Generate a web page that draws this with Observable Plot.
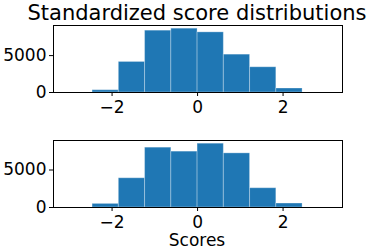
<!DOCTYPE html>
<html>
<head>
<meta charset="utf-8">
<script src="https://cdn.jsdelivr.net/npm/d3@7"></script>
<script src="https://cdn.jsdelivr.net/npm/@observablehq/plot@0.6"></script>
<style>
  html, body { margin: 0; padding: 0; background: #fff; }
  #chart { position: relative; width: 374px; height: 249px; font-family: "DejaVu Sans", sans-serif; overflow: hidden; }
  #chart > div.t { position: absolute; left: 0; width: 374px; text-align: center; color: #000; white-space: nowrap; line-height: 1; }
  #chart > .p { position: absolute; left: 0; }
</style>
</head>
<body>
<div id="chart"></div>
<script>
const title = "Standardized score distributions";
const xLabel = "Scores";
const binEdges = [-2.456, -1.842, -1.228, -0.614, 0, 0.614, 1.228, 1.842, 2.456];
const countsTop = [310, 4140, 8380, 8650, 8150, 5130, 3420, 540];
const countsBottom = [480, 3900, 7980, 7450, 8510, 7220, 2570, 530];
const xTicks = [-2, 0, 2];
const yTicks = [0, 5000];

const fmt = d => String(d).replace("-", "\u2212");

function hist(counts, top, height, mb, yMax) {
  const data = counts.map((c, i) => ({x1: binEdges[i], x2: binEdges[i + 1], y: c}));
  const svg = Plot.plot({
    width: 374,
    height,
    marginTop: 25,
    marginBottom: mb,
    marginLeft: 53,
    marginRight: 32,
    style: {fontFamily: "DejaVu Sans, sans-serif", fontSize: "17px", color: "#000", background: "transparent", overflow: "visible"},
    x: {domain: [-3.37, 3.39], label: null},
    y: {domain: [0, yMax], label: null},
    marks: [
      Plot.rectY(data, {x1: "x1", x2: "x2", y: "y", fill: "#1f77b4", stroke: "#ffffff", strokeOpacity: 0.3, strokeWidth: 1, inset: 0}),
      Plot.frame({stroke: "#000", strokeWidth: 1}),
      Plot.axisX({ticks: xTicks, tickSize: 4, tickPadding: 4, tickFormat: fmt, fontSize: 17, label: null, stroke: "#000"}),
      Plot.axisY({ticks: yTicks, tickSize: 4, tickPadding: 3, tickFormat: d => String(d), fontSize: 17, label: null, stroke: "#000"})
    ]
  });
  svg.classList.add("p");
  svg.style.top = top + "px";
  return svg;
}

const chart = document.getElementById("chart");
const t = document.createElement("div");
t.className = "t";
t.textContent = title;
t.style.left = "10px";
t.style.top = "3px";
t.style.fontSize = "21px";
chart.appendChild(t);

chart.appendChild(hist(countsTop, 0, 115, 23, 9080));
chart.appendChild(hist(countsBottom, 115, 134, 42, 8936));

const xl = document.createElement("div");
xl.className = "t";
xl.textContent = xLabel;
xl.style.left = "10px";
xl.style.top = "232px";
xl.style.fontSize = "17px";
chart.appendChild(xl);
</script>
</body>
</html>
